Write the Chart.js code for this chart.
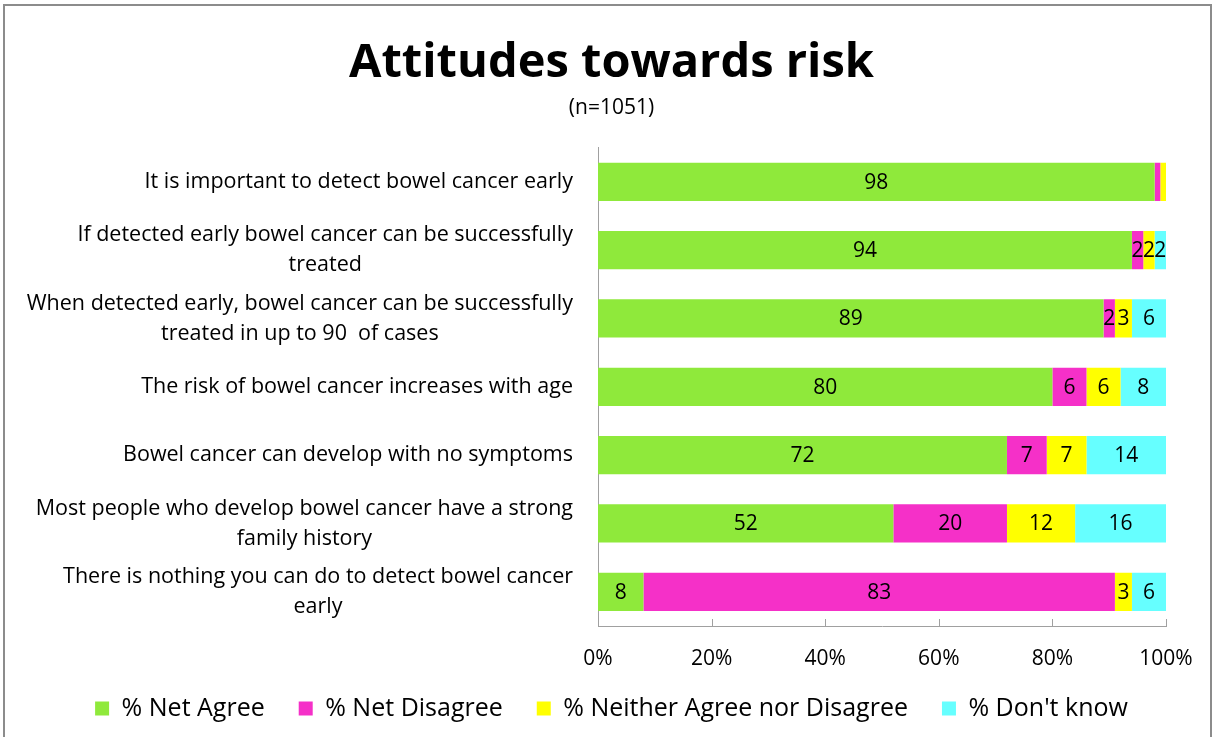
<!DOCTYPE html>
<html>
<head>
<meta charset="utf-8">
<script src="https://cdn.jsdelivr.net/npm/chart.js@4.4.0/dist/chart.umd.min.js"></script>
<style>
  html, body { margin: 0; padding: 0; background: #fff; overflow: hidden; }
  #wrap { position: relative; width: 1214px; height: 737px; }
  #frame { position: absolute; left: 3px; top: 4px; width: 1205px; height: 760px; border: 2px solid #8c8c8c; pointer-events: none; }
</style>
</head>
<body>
<div id="wrap">
  <canvas id="c" width="1214" height="737"></canvas>
  <div id="frame"></div>
</div>
<script>
const categories = [
  ["It is important to detect bowel cancer early"],
  ["If detected early bowel cancer can be successfully", "treated"],
  ["When detected early, bowel cancer can be successfully", "treated in up to 90  of cases"],
  ["The risk of bowel cancer increases with age"],
  ["Bowel cancer can develop with no symptoms"],
  ["Most people who develop bowel cancer have a strong", "family history"],
  ["There is nothing you can do to detect bowel cancer", "early"]
];
const seriesNames = ["% Net Agree", "% Net Disagree", "% Neither Agree nor Disagree", "% Don't know"];
const netAgree    = [98, 94, 89, 80, 72, 52, 8];
const netDisagree = [1, 2, 2, 6, 7, 20, 83];
const neither     = [1, 2, 3, 6, 7, 12, 3];
const dontKnow    = [0, 2, 6, 8, 14, 16, 6];
const xTicks = [0, 20, 40, 60, 80, 100];
const titleText = "Attitudes towards risk";
const subtitleText = "(n=1051)";

const colors = ["#8FE93B", "#F530C8", "#FFFF00", "#66FFFF"];
const FONT = "'Open Sans', sans-serif";

const labelPlugin = {
  id: 'customLabels',
  afterDatasetsDraw(chart) {
    const ctx = chart.ctx;
    ctx.save();
    ctx.font = "21px " + FONT;
    ctx.fillStyle = "#000";
    ctx.textAlign = "center";
    ctx.textBaseline = "middle";
    chart.data.datasets.forEach((ds, i) => {
      const meta = chart.getDatasetMeta(i);
      meta.data.forEach((el, j) => {
        const v = ds.data[j];
        if (v >= 2) {
          const p = el.getProps(['x', 'y', 'base'], true);
          ctx.fillText(String(v), (p.x + p.base) / 2, p.y + 1);
        }
      });
    });
    // y category labels
    const y = chart.scales.y;
    const rightX = y.right - 25;
    ctx.font = "21.5px " + FONT;
    const lh = 30;
    categories.forEach((lines, j) => {
      const cy = y.getPixelForValue(j);
      let maxW = 0;
      lines.forEach(l => { maxW = Math.max(maxW, ctx.measureText(l).width); });
      const cx = rightX - maxW / 2;
      const startY = cy - (lines.length - 1) * lh / 2;
      lines.forEach((l, k) => ctx.fillText(l, cx, startY + k * lh));
    });
    // x tick marks pointing up
    const x = chart.scales.x;
    ctx.strokeStyle = "#a0a0a0";
    ctx.lineWidth = 1;
    xTicks.forEach(t => {
      const px = Math.round(x.getPixelForValue(t)) + 0.5;
      ctx.beginPath();
      ctx.moveTo(px, x.top);
      ctx.lineTo(px, x.top - 7);
      ctx.stroke();
    });
    ctx.restore();
  }
};

new Chart(document.getElementById('c'), {
  type: 'bar',
  data: {
    labels: categories.map(c => c.join(' ')),
    datasets: [
      { label: seriesNames[0], data: netAgree, backgroundColor: colors[0], xAxisID: 'x', yAxisID: 'y' },
      { label: seriesNames[1], data: netDisagree, backgroundColor: colors[1], xAxisID: 'x', yAxisID: 'y' },
      { label: seriesNames[2], data: neither, backgroundColor: colors[2], xAxisID: 'x', yAxisID: 'y' },
      { label: seriesNames[3], data: dontKnow, backgroundColor: colors[3], xAxisID: 'x', yAxisID: 'y' }
    ]
  },
  options: {
    indexAxis: 'y',
    responsive: false,
    animation: false,
    datasets: { bar: { barPercentage: 1, categoryPercentage: 0.56, borderWidth: 0 } },
    layout: { padding: { left: 9, right: 0, top: 4, bottom: 6 } },
    scales: {
      x: {
        stacked: true, min: 0, max: 100,
        afterBuildTicks(scale) { scale.ticks = xTicks.map(v => ({ value: v })); },
        grid: { display: false, drawTicks: false },
        border: { display: true, color: '#a0a0a0', width: 1 },
        ticks: { padding: 20, color: '#000', font: { family: FONT, size: 21 }, callback: v => v + '%' },
        afterFit(scale) {
          scale.height = 36;
          scale._computeLabelArea = () => undefined;
        }
      },
      y: {
        type: 'category',
        position: 'left',
        stacked: true,
        grid: { display: false, drawTicks: false },
        border: { display: true, color: '#a0a0a0', width: 1 },
        ticks: { display: false },
        afterFit(scale) { scale.width = 589; }
      },
      yRight: {
        type: 'linear',
        axis: 'y',
        position: 'right',
        display: true,
        grid: { display: false, drawTicks: false },
        border: { display: false },
        ticks: { display: false },
        afterFit(scale) { scale.width = 48; }
      }
    },
    plugins: {
      title: { display: true, text: titleText, color: '#000', font: { family: FONT, size: 47, weight: 'bold' }, padding: { top: 31, bottom: 2 } },
      subtitle: { display: true, text: subtitleText, color: '#000', font: { family: FONT, size: 21 }, padding: { top: 2, bottom: 27 } },
      legend: {
        position: 'bottom',
        labels: { color: '#000', boxWidth: 14, boxHeight: 14, padding: 34, font: { family: FONT, size: 25 } }
      },
      tooltip: { enabled: false }
    }
  },
  plugins: [labelPlugin]
});
</script>
</body>
</html>
